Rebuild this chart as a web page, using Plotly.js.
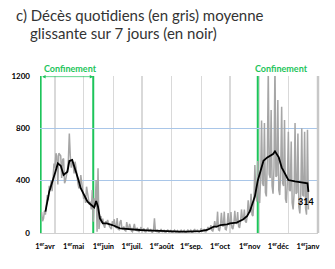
<!DOCTYPE html>
<html>
<head>
<meta charset="utf-8">
<script src="https://cdn.plot.ly/plotly-3.0.1.min.js"></script>
<style>html,body{margin:0;padding:0;background:#fff;}#chart{width:335px;height:269px;}</style>
</head>
<body>
<div id="chart"></div>
<script>
// Daily deaths (grey), one value per day starting 2020-03-18
const dailyStart = '2020-03-18';
const dailyDeaths = [
  160, 90, 110, 170, 140, 220, 290, 250, 360, 330, 400, 320, 420, 530,
  500, 610, 590, 370, 610, 600, 590, 420, 560, 570, 380, 400, 440, 480, 560, 760,
  590, 500, 545, 520, 456, 545, 500, 420, 380, 341, 360, 443, 390, 300,
  260, 290, 230, 354, 300, 260, 214, 240, 180, 329, 86, 265, 200, 405, 10, 494,
  30, 100, 130, 80, 110, 60, 40, 90, 70, 100, 65, 50, 40, 30, 90,
  70, 105, 45, 40, 115, 30, 25, 84, 99, 35, 30, 50, 20, 15, 84, 40, 30, 70, 25, 15,
  10, 40, 69, 25, 20, 40, 12, 10, 30, 45,
  20, 18, 35, 10, 8, 25, 40, 15, 15, 30, 8, 6, 20, 112, 15, 12, 25, 6, 5, 15,
  30, 10, 10, 20, 5, 4, 12, 25, 8, 8, 18,
  4, 3, 10, 22, 8, 8, 18, 4, 3, 10, 25, 8, 10, 20, 5, 4, 12, 25, 10, 12,
  22, 6, 5, 14, 30, 12, 14, 25, 8, 6, 18,
  35, 15, 18, 30, 10, 10, 25, 45, 30, 30, 60, 20, 15, 40, 90, 50, 45, 163, 25, 20,
  55, 155, 60, 50, 163, 30, 25, 60, 153, 70,
  60, 160, 40, 30, 70, 170, 80, 70, 160, 50, 40, 90, 180, 110, 100, 180, 90, 80, 130, 250,
  160, 160, 300, 140, 130, 250, 520, 290, 240, 550, 250,
  230, 420, 860, 380, 360, 840, 310, 280, 550, 1250, 450, 420, 940, 360, 300, 500, 1300, 430, 440, 1016,
  330, 290, 480, 965, 380, 360, 863, 260, 230, 400,
  774, 330, 320, 700, 230, 180, 300, 840, 300, 310, 760, 200, 150, 300, 800, 290, 280, 774, 190, 140,
  790, 180
];

// 7-day moving average (black)
const avgDates = [
  '2020-03-22','2020-03-26','2020-04-01','2020-04-04','2020-04-07','2020-04-10','2020-04-14','2020-04-16',
  '2020-04-19','2020-04-22','2020-04-25','2020-04-28','2020-05-02','2020-05-05','2020-05-09','2020-05-11',
  '2020-05-12','2020-05-14','2020-05-16','2020-05-18','2020-05-21','2020-05-25','2020-05-31','2020-06-08',
  '2020-06-15','2020-06-22','2020-06-29','2020-07-06','2020-07-13','2020-07-20','2020-07-27','2020-08-03',
  '2020-08-10','2020-08-17','2020-08-24','2020-08-31','2020-09-07','2020-09-14','2020-09-17','2020-09-21',
  '2020-09-28','2020-10-01','2020-10-08','2020-10-15','2020-10-19','2020-10-22','2020-10-27','2020-10-30',
  '2020-11-02','2020-11-05','2020-11-09','2020-11-12','2020-11-15','2020-11-17','2020-11-21','2020-11-24',
  '2020-11-28','2020-12-01','2020-12-08','2020-12-15','2020-12-21','2020-12-22'
];
const avgDeaths = [
  163, 316, 456, 532, 514, 443, 468, 550,
  558, 494, 418, 341, 277, 239, 214, 201,
  195, 245, 200, 112, 74, 74, 61, 36,
  30, 26, 23, 20, 18, 15, 10, 10,
  10, 11, 13, 15, 23, 48, 48, 61,
  66, 74, 80, 105, 130, 170, 280, 400,
  476, 552, 578, 591, 604, 624, 578, 502,
  451, 405, 395, 387, 380, 314
];
const lastLabel = '314';

// Axis ticks
const monthTicks = ['2020-04-01','2020-05-01','2020-06-01','2020-07-01','2020-08-01','2020-09-01',
                    '2020-10-01','2020-11-01','2020-12-01','2021-01-01'];
const monthNames = ['avr','mai','juin','juil.','août','sep.','oct','nov','déc','janv'];
const yTicks = [0, 400, 800, 1200];

// Lockdown markers
const lockdownDates = ['2020-03-17','2020-05-11','2020-10-30'];
const lockdownLabel = 'Confinement';

const titleLine1 = 'c) Décès quotidiens (en gris) moyenne';
const titleLine2 = 'glissante sur 7 jours (en noir)';

const green = '#1DC45A';
const FONT = 'Lato, Carlito, "Open Sans", sans-serif';

const traces = [
  {
    type: 'scatter', mode: 'lines',
    x0: dailyStart, dx: 86400000,
    y: dailyDeaths,
    line: {color: '#A6A6A6', width: 1.5},
    hoverinfo: 'skip'
  },
  {
    type: 'scatter', mode: 'lines',
    x: avgDates, y: avgDeaths,
    line: {color: '#000000', width: 1.8},
    hoverinfo: 'skip'
  }
];

const shapes = lockdownDates.map(d => ({
  type: 'line', xref: 'x', yref: 'paper', x0: d, x1: d, y0: 0, y1: 1,
  line: {color: green, width: 2}, layer: 'between'
}));
shapes.push({
  type: 'line', xref: 'paper', yref: 'paper', x0: 1, x1: 1, y0: 0, y1: 1,
  line: {color: '#C8C8C8', width: 2.5}, layer: 'above'
});

const annotations = [
  {xref: 'paper', yref: 'paper', x: -0.0935, y: 1.389, xanchor: 'left', yanchor: 'middle',
   text: titleLine1, showarrow: false, font: {family: FONT, size: 15, color: '#333333'}},
  {xref: 'paper', yref: 'paper', x: -0.0432, y: 1.274, xanchor: 'left', yanchor: 'middle',
   text: titleLine2, showarrow: false, font: {family: FONT, size: 15, color: '#333333'}},
  {xref: 'paper', yref: 'paper', x: 0.1097, y: 1.046, xanchor: 'center', yanchor: 'middle',
   text: '<b>' + lockdownLabel + '</b>', showarrow: false, font: {family: FONT, size: 9, color: green}},
  {xref: 'paper', yref: 'paper', x: 0.867, y: 1.046, xanchor: 'center', yanchor: 'middle',
   text: '<b>' + lockdownLabel + '</b>', showarrow: false, font: {family: FONT, size: 9, color: green}},
  {xref: 'x', yref: 'y', x: lockdownDates[1], y: 1195, axref: 'x', ayref: 'y', ax: lockdownDates[0], ay: 1195,
   text: '', showarrow: true, arrowside: 'end+start', arrowhead: 2, arrowsize: 1, arrowwidth: 0.7,
   arrowcolor: green, standoff: 0, startstandoff: 0},
  {xref: 'x', yref: 'y', x: avgDates[avgDates.length - 1], y: avgDeaths[avgDeaths.length - 1],
   text: '<b>' + lastLabel + '</b>', showarrow: false, xanchor: 'center', yanchor: 'middle',
   xshift: -2, yshift: -10, font: {family: FONT, size: 9, color: '#000000'}}
];

const layout = {
  width: 335, height: 269,
  margin: {l: 40, r: 17, t: 76, b: 36, pad: 0},
  paper_bgcolor: '#ffffff', plot_bgcolor: '#ffffff',
  showlegend: false,
  font: {family: FONT, color: '#000000'},
  xaxis: {
    type: 'date',
    range: ['2020-03-16 08:00', '2021-01-01'],
    tickvals: monthTicks,
    ticktext: monthNames.map(m => '<b>1<sup>er</sup>' + m + '</b>'),
    tickfont: {family: FONT, size: 7.5, color: '#000000'},
    ticks: '', ticklabelstandoff: 6, ticklabelshift: -10,
    showgrid: true, gridcolor: '#D9D9D9', gridwidth: 1.5,
    showline: true, linecolor: '#D0D0D0', linewidth: 1,
    zeroline: false, fixedrange: true
  },
  yaxis: {
    range: [0, 1200],
    tickvals: yTicks,
    ticktext: yTicks.map(v => '<b>' + v + '</b>'),
    tickfont: {family: FONT, size: 8, color: '#000000'},
    ticks: '', ticklabelstandoff: 9,
    showgrid: true, gridcolor: '#A9C6E8', gridwidth: 1,
    zeroline: false, showline: false, fixedrange: true
  },
  shapes: shapes,
  annotations: annotations
};

Plotly.newPlot('chart', traces, layout, {displayModeBar: false, staticPlot: true});
</script>
</body>
</html>
